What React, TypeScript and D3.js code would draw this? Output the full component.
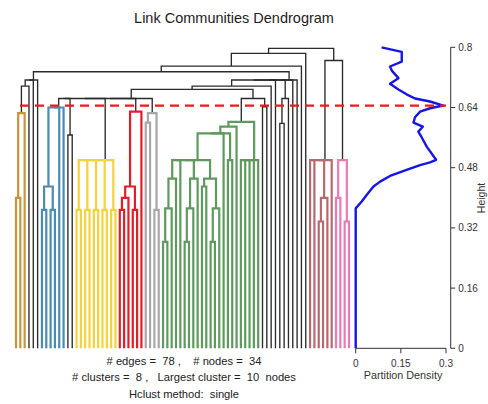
import React from "react";
import * as d3 from "d3";

// ---- Dendrogram data (hclust-style merge table) ----
// negative = leaf -(i+1), positive = earlier merge (1-based)
const merges: [number, number][] = [
  [-1, -2], [1, -3], [2, -4], [3, -5], [4, -6],
  [-7, -8], [-9, -10], [6, 7], [8, -11], [9, -12],
  [-13, -14],
  [-15, -16], [-17, -18], [-19, -20], [-21, -22], [-23, -24], [12, 13], [17, 14], [18, 15], [19, 16],
  [-25, -26], [21, -27], [-28, -29], [22, 23], [24, -30],
  [-31, -32], [-33, -34], [26, 27],
  [10, 11], [29, 20], [30, 25], [31, 28],
  [-35, -36], [33, -37], [34, -38], [-40, -41], [36, -42], [37, -43], [-44, -45], [-46, -47], [40, -48], [39, 41], [35, -39], [43, 38], [44, 42],
  [-50, -51], [45, -49], [47, 46], [48, -52], [-53, -54], [50, -55], [51, -56], [52, -57], [49, 53],
  [-58, -59], [54, 55], [32, 56], [57, -60], [-62, -63], [59, -64], [58, -61], [61, 60], [62, -65], [63, -66], [5, 64], [65, -67], [66, -68],
  [-71, -72], [68, -73], [-69, -70], [70, 69], [71, -74],
  [-75, -76], [-77, -78], [73, 74], [72, 75], [67, 76],
];

const mergeHeights: number[] = [
  0.40, 0.625, 0.697, 0.713, 0.713,
  0.368, 0.368, 0.43, 0.64, 0.64,
  0.567,
  0.368, 0.368, 0.368, 0.368, 0.368, 0.50, 0.50, 0.50, 0.50,
  0.368, 0.40, 0.368, 0.43, 0.629,
  0.60, 0.368, 0.625,
  0.664, 0.664, 0.664, 0.664,
  0.283, 0.372, 0.451, 0.283, 0.372, 0.451, 0.43, 0.283, 0.372, 0.451, 0.50, 0.50, 0.50,
  0.50, 0.571, 0.571, 0.589, 0.50, 0.50, 0.50, 0.50, 0.602,
  0.642, 0.664, 0.688, 0.697, 0.598, 0.664, 0.713, 0.713, 0.713, 0.713, 0.735, 0.75, 0.784,
  0.337, 0.40, 0.50, 0.50, 0.50,
  0.40, 0.337, 0.50, 0.765, 0.797,
];

// clusters (leaf ranges in display order)
const clusterFirst = [0, 6, 14, 24, 30, 34, 68, 74];
const clusterLast = [2, 11, 23, 29, 33, 56, 73, 77];
const clusterColors = ["#C8943A", "#4A8BB3", "#F3D23A", "#E11E28", "#A8A8A8", "#5E9A5E", "#B8696D", "#EA7AB4"];

const cutHeight = 0.645;

// ---- Partition density curve ----
const pdHeight = [0, 0.372, 0.39, 0.408, 0.43, 0.443, 0.458, 0.474, 0.487, 0.494, 0.501, 0.536, 0.561, 0.576, 0.589, 0.6, 0.614, 0.629, 0.638, 0.645, 0.656, 0.664, 0.675, 0.688, 0.703, 0.718, 0.738, 0.749, 0.762, 0.788, 0.8];
const pdValue = [0, 0, 0.02, 0.037, 0.059, 0.081, 0.114, 0.169, 0.214, 0.247, 0.267, 0.236, 0.219, 0.208, 0.223, 0.192, 0.197, 0.214, 0.247, 0.291, 0.247, 0.197, 0.169, 0.142, 0.114, 0.142, 0.12, 0.114, 0.153, 0.153, 0.086];

const heightTicks = [0, 0.16, 0.32, 0.48, 0.64, 0.8];
const pdTicks = [0, 0.15, 0.3];

const infoLines = [
  "# edges =  78 ,    # nodes =  34",
  "# clusters =  8 ,   Largest cluster =  10  nodes",
  "Hclust method:  single",
];

const FONT = "'Liberation Sans', Arial, sans-serif";

type Node = { x: number; h: number; c: number; xl: number; hl: number; xr: number; hr: number };

export default function App() {
  const nLeaves = merges.length + 1;
  const x = d3.scaleLinear().domain([0, nLeaves - 1]).range([16, 349]);
  const y = d3.scaleLinear().domain([0, 0.8]).range([348.3, 47.3]);
  const px = d3.scaleLinear().domain([0, 0.3]).range([355.7, 446]);

  const order: number[] = [];
  const visit = (ref: number) => {
    if (ref < 0) order.push(-ref - 1);
    else {
      visit(merges[ref - 1][0]);
      visit(merges[ref - 1][1]);
    }
  };
  visit(merges.length);
  const pos = new Map<number, number>();
  order.forEach((leaf, i) => pos.set(leaf, i));
  const leafCluster = (i: number) => clusterFirst.findIndex((f, k) => i >= f && i <= clusterLast[k]);

  const nodes: Node[] = [];
  const info = (ref: number) => {
    if (ref < 0) {
      const leaf = -ref - 1;
      const p = pos.get(leaf) as number;
      return { x: x(p), h: 0, c: leafCluster(p) };
    }
    return nodes[ref - 1];
  };
  merges.forEach(([a, b], k) => {
    const A = info(a);
    const B = info(b);
    const h = mergeHeights[k];
    const c = A.c === B.c && A.c >= 0 && h < cutHeight ? A.c : -1;
    nodes.push({ x: (A.x + B.x) / 2, h, c, xl: A.x, hl: A.h, xr: B.x, hr: B.h });
  });

  const nodePath = (n: Node) => `M${n.xl},${y(n.hl)}V${y(n.h)}H${n.xr}V${y(n.hr)}`;

  const pdLine = d3
    .line<number>()
    .x((i) => px(pdValue[i]))
    .y((i) => y(pdHeight[i]))(pdHeight.map((_, i) => i));

  const axisX = 450.7;

  return (
    <svg
      width={488}
      height={404}
      style={{ position: "absolute", left: 0, top: 0, background: "#fff" }}
      fontFamily={FONT}
    >
      <rect width={488} height={404} fill="#fff" />
      <text x={234} y={23} fontSize={14.5} textAnchor="middle" fill="#222">
        Link Communities Dendrogram
      </text>

      {/* black links */}
      <g fill="none" stroke="#2b2b2b" strokeWidth={1.35}>
        {nodes.filter((n) => n.c < 0).map((n, i) => (
          <path key={i} d={nodePath(n)} />
        ))}
      </g>
      {/* cluster links */}
      <g fill="none" strokeWidth={2.2}>
        {nodes.filter((n) => n.c >= 0).map((n, i) => (
          <path key={i} d={nodePath(n)} stroke={clusterColors[n.c]} />
        ))}
      </g>

      {/* partition density */}
      <path d={pdLine || ""} fill="none" stroke="#1515E6" strokeWidth={2.4} strokeLinejoin="round" />

      {/* cut line */}
      <line x1={20} x2={446} y1={y(cutHeight)} y2={y(cutHeight)} stroke="#F01818" strokeWidth={2.4} strokeDasharray="9,6" />

      {/* PD x axis */}
      <g stroke="#333" strokeWidth={1}>
        <line x1={px(0)} x2={px(0.3)} y1={y(0)} y2={y(0)} />
        {pdTicks.map((t) => (
          <line key={t} x1={px(t)} x2={px(t)} y1={y(0)} y2={y(0) + 5} />
        ))}
      </g>
      {pdTicks.map((t) => (
        <text key={t} x={px(t)} y={367} fontSize={10} textAnchor="middle" fill="#333">
          {String(t)}
        </text>
      ))}
      <text x={403} y={378.5} fontSize={10.8} textAnchor="middle" fill="#333">
        Partition Density
      </text>

      {/* Height axis (right) */}
      <g stroke="#333" strokeWidth={1}>
        <line x1={axisX} x2={axisX} y1={y(0)} y2={y(0.8)} />
        {heightTicks.map((t) => (
          <line key={t} x1={axisX} x2={axisX + 4.5} y1={y(t)} y2={y(t)} />
        ))}
      </g>
      {heightTicks.map((t) => (
        <text key={t} x={458.3} y={y(t) + 3.5} fontSize={10} fill="#333">
          {String(t)}
        </text>
      ))}
      <text transform="translate(484.5,198) rotate(-90)" fontSize={10.5} textAnchor="middle" fill="#333">
        Height
      </text>

      {/* info text */}
      {infoLines.map((s, i) => (
        <text key={i} x={184} y={364.5 + i * 16.5} fontSize={11.2} textAnchor="middle" fill="#222" style={{ whiteSpace: "pre" }}>
          {s}
        </text>
      ))}
    </svg>
  );
}
